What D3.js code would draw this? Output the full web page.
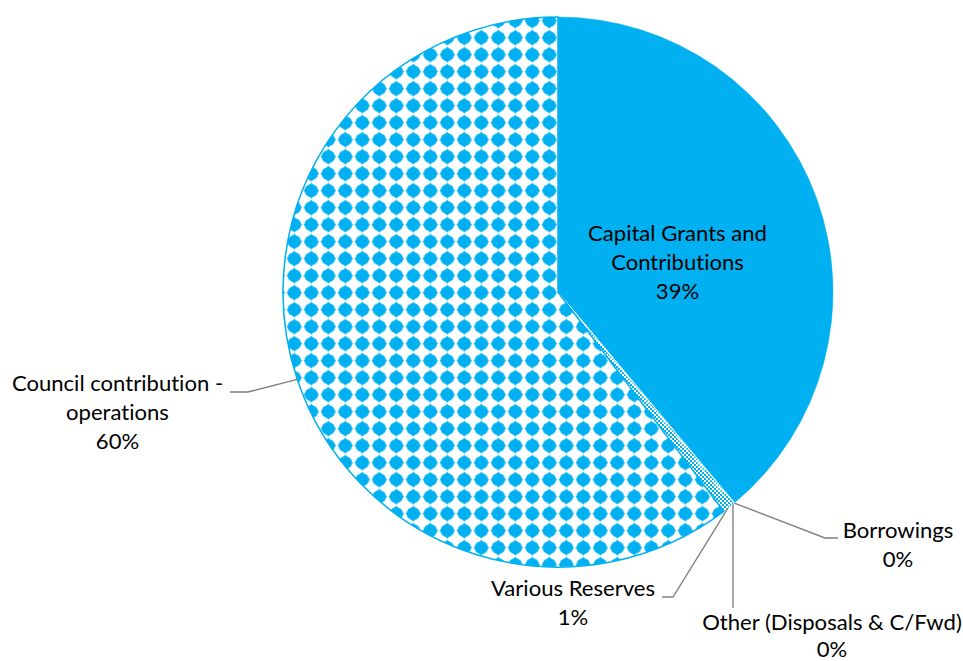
<!DOCTYPE html>
<html><head><meta charset="utf-8">
<script src="https://cdn.jsdelivr.net/npm/d3@7"></script>
<style>html,body{margin:0;padding:0;background:#fff;overflow:hidden} text{font-variant-ligatures:none;font-feature-settings:"liga" 0,"clig" 0}</style>
</head><body>
<svg id="chart" width="963" height="661"></svg>
<script>
// ---- data ----
const categories = ["Capital Grants and Contributions", "Borrowings", "Other (Disposals & C/Fwd)", "Various Reserves", "Council contribution - operations"];
const values = [38.9, 0.05, 0.15, 0.6, 60.3];
const labelLines = [["Capital Grants and", "Contributions"], ["Borrowings"], ["Other (Disposals & C/Fwd)"], ["Various Reserves"], ["Council contribution -", "operations"]];

// ---- layout ----
const W = 963, H = 661, cx = 558, cy = 292, R = 275;
const blue = "#00B0F0";
const fontFamily = "Lato, 'Open Sans', sans-serif";
const lineH = 29;

const svg = d3.select("#chart");
svg.append("rect").attr("width", W).attr("height", H).attr("fill", "#fff");
const defs = svg.append("defs");

// diamond pattern (council)
const pd = defs.append("pattern").attr("id", "diamonds").attr("patternUnits", "userSpaceOnUse")
  .attr("width", 17).attr("height", 17).attr("x", 413.3 - 8.5 - cx).attr("y", 156.7 - 8.5 - cy);
pd.append("rect").attr("width", 17).attr("height", 17).attr("fill", "#fff");
pd.append("path").attr("fill", blue)
  .attr("d", "M8.5,0.6 L9.8,2.0 Q14.6,3.6 15.0,7.2 L16.3,8.5 L15.0,9.8 Q14.6,13.4 9.8,15.0 L8.5,16.4 L7.2,15.0 Q2.4,13.4 2.0,9.8 L0.7,8.5 L2.0,7.2 Q2.4,3.6 7.2,2.0 Z");

// fine checker pattern (small slices)
const pc = defs.append("pattern").attr("id", "checker").attr("patternUnits", "userSpaceOnUse")
  .attr("width", 4).attr("height", 4);
pc.append("rect").attr("width", 4).attr("height", 4).attr("fill", "#fff");
pc.append("rect").attr("width", 2).attr("height", 2).attr("fill", blue);
pc.append("rect").attr("x", 2).attr("y", 2).attr("width", 2).attr("height", 2).attr("fill", blue);

const g = svg.append("g").attr("transform", `translate(${cx},${cy})`);
const pie = d3.pie().sort(null).value(d => d)(values);
const arc = d3.arc().innerRadius(0).outerRadius(R);
const edge = d3.arc().innerRadius(R).outerRadius(R);

const sliceStyle = [
  {fill: blue, stroke: blue, sw: 0.5},
  {fill: "url(#checker)", stroke: "#fff", sw: 0.6},
  {fill: "url(#checker)", stroke: "#fff", sw: 0.6},
  {fill: "url(#checker)", stroke: "#fff", sw: 0.6},
  {fill: "url(#diamonds)", stroke: blue, sw: 1.5}
];
g.selectAll("path.slice").data(pie).join("path").attr("class", "slice")
  .attr("d", arc)
  .attr("fill", (d, i) => sliceStyle[i].fill)
  .attr("stroke", (d, i) => sliceStyle[i].stroke)
  .attr("stroke-width", (d, i) => sliceStyle[i].sw)
  .attr("stroke-linejoin", "round");

// font size fitted to reference text width
const tmp = svg.append("text").attr("font-family", fontFamily).attr("font-size", 100).text(labelLines[0][0]);
const fs = 100 * 179 / tmp.node().getComputedTextLength();
tmp.remove();

const total = d3.sum(values);
const pctText = values.map(v => Math.round(v / total * 100) + "%");

// label layout: text center x, first baseline, line gap, leader elbow points (absolute)
const labelLayout = [
  {x: 677.5, y: 241, gap: lineH, leader: null},
  {x: 898, y: 538, gap: lineH, leader: s => [s, [825, 538], [838, 538]]},
  {x: 832, y: 630, gap: 27, leader: s => [s, [s[0], 608]]},
  {x: 573, y: 596, gap: lineH, leader: s => [s, [673, 597], [662, 597]]},
  {x: 117.5, y: 391, gap: lineH, leader: s => [s, [248, 392], [230, 392]]}
];

pie.forEach((d, i) => {
  const L = labelLayout[i];
  if (L.leader) {
    const c = edge.centroid(d);
    const s = [c[0] + cx, c[1] + cy];
    svg.append("path")
      .attr("d", d3.line()(L.leader(s)))
      .attr("fill", "none").attr("stroke", "#808080").attr("stroke-width", 1.4);
  }
  const lines = labelLines[i].concat([pctText[i]]);
  const t = svg.append("text").attr("font-family", fontFamily).attr("font-size", fs)
    .attr("fill", "#000").attr("text-anchor", "middle");
  lines.forEach((ln, k) => {
    t.append("tspan").attr("x", L.x).attr("y", L.y + k * L.gap).text(ln);
  });
});
</script>
</body></html>
